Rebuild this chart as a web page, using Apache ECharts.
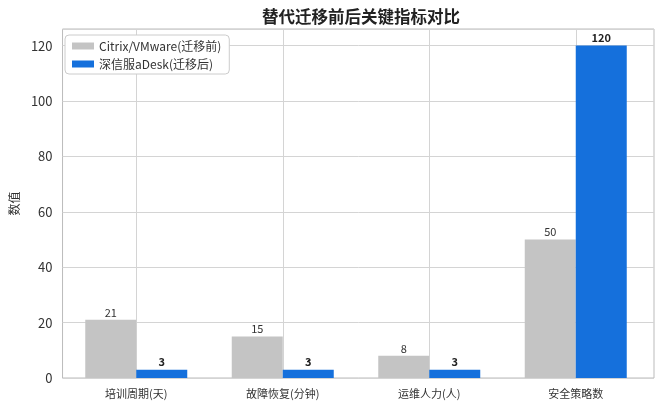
<!doctype html>
<html>
<head>
<meta charset="utf-8">
<script src="https://cdn.jsdelivr.net/npm/echarts@6/dist/echarts.min.js"></script>
<style>
    html, body {margin: 0; padding: 0; background: #fff;}
    #main {width: 662px; height: 410px;}
</style>
</head>
<body>
<div id="main"></div>
<script>
    var categories = ['培训周期(天)', '故障恢复(分钟)', '运维人力(人)', '安全策略数'];
    var seriesNames = ['Citrix/VMware(迁移前)', '深信服aDesk(迁移后)'];
    var beforeValues = [21, 15, 8, 50];
    var afterValues = [3, 3, 3, 120];
    var yTicks = [0, 20, 40, 60, 80, 100, 120];

    var font = 'Noto Sans CJK SC';
    var myChart = echarts.init(document.getElementById('main'));

    var option = {
        backgroundColor: '#fff',
        textStyle: {fontFamily: font},
        title: {
            text: '替代迁移前后关键指标对比',
            left: 356,
            top: 3,
            textAlign: 'center',
            textStyle: {fontFamily: font, fontSize: 16.5, fontWeight: 'bold', color: '#222'}
        },
        legend: {
            orient: 'vertical',
            left: 65,
            top: 35,
            itemWidth: 22,
            itemHeight: 7,
            itemGap: 6,
            padding: [5, 8, 4, 7],
            borderColor: '#cccccc',
            borderWidth: 1,
            borderRadius: 4,
            backgroundColor: '#fff',
            icon: 'rect',
            textStyle: {fontFamily: font, fontSize: 12, color: '#333'},
            data: seriesNames
        },
        grid: [
            {left: 58, right: 8, top: 29, bottom: 32, show: true, borderColor: '#bbbbbb', borderWidth: 1},
            {left: 63, right: 13, top: 29, bottom: 32}
        ],
        xAxis: [
            {
                gridIndex: 0, type: 'value', min: 0, max: 1, show: false
            },
            {
                gridIndex: 1,
                type: 'category',
                data: categories,
                axisLine: {show: false},
                axisTick: {show: false},
                axisLabel: {fontFamily: font, fontSize: 11, color: '#333', margin: 10},
                splitLine: {show: true, alignWithLabel: true, lineStyle: {color: '#d4d4d4', width: 1}}
            }
        ],
        yAxis: [
            {
                gridIndex: 0,
                type: 'value',
                min: 0,
                max: 126,
                interval: 20,
                name: '数值',
                nameLocation: 'middle',
                nameGap: 37,
                nameTextStyle: {fontFamily: font, fontSize: 12, color: '#333'},
                axisLine: {show: false},
                axisTick: {show: false},
                axisLabel: {fontFamily: font, fontSize: 13, color: '#333', margin: 10, showMaxLabel: false},
                splitLine: {show: true, lineStyle: {color: '#d4d4d4', width: 1}}
            },
            {
                gridIndex: 1,
                type: 'value',
                min: 0,
                max: 126,
                interval: 20,
                show: false
            }
        ],
        series: [
            {
                name: seriesNames[0],
                type: 'bar',
                xAxisIndex: 1,
                yAxisIndex: 1,
                barWidth: 51,
                barGap: '0%',
                itemStyle: {color: '#c4c4c4'},
                label: {show: true, position: 'top', distance: 2, fontFamily: font, fontSize: 11, color: '#333'},
                data: beforeValues
            },
            {
                name: seriesNames[1],
                type: 'bar',
                xAxisIndex: 1,
                yAxisIndex: 1,
                barWidth: 51,
                barGap: '0%',
                itemStyle: {color: '#1570dc'},
                label: {show: true, position: 'top', distance: 2, fontFamily: font, fontSize: 11, fontWeight: 'bold', color: '#222'},
                data: afterValues
            }
        ]
    };
    myChart.setOption(option);
</script>
</body>
</html>
